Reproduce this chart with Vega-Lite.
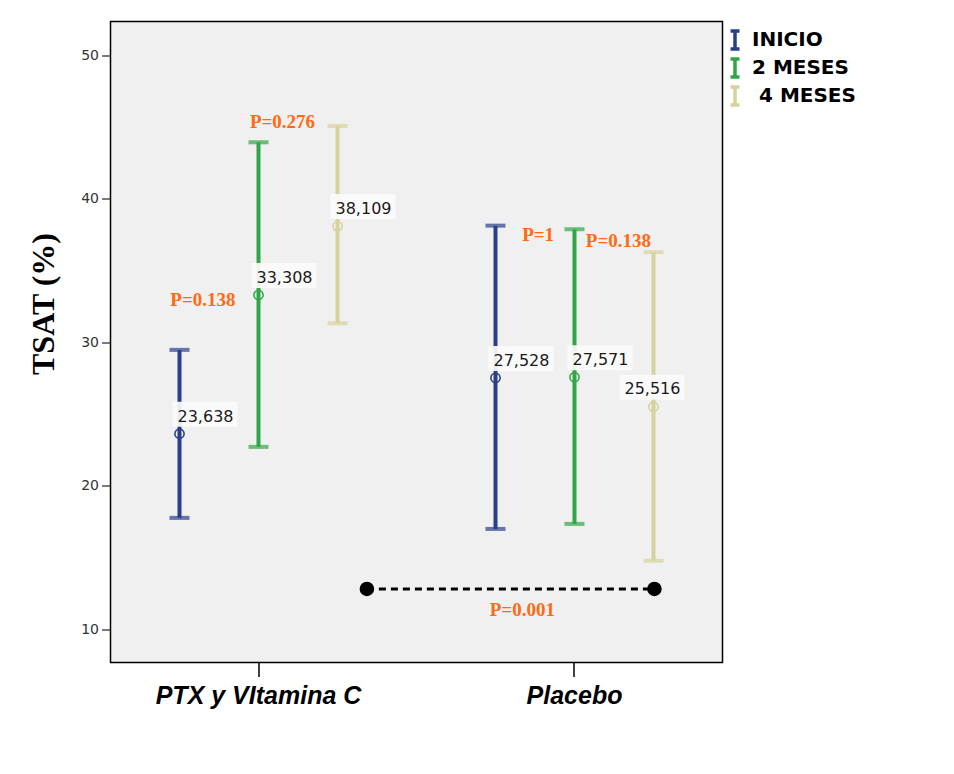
{
  "$schema": "https://vega.github.io/schema/vega-lite/v6.json",
  "width": 612,
  "height": 641,
  "autosize": "none",
  "padding": {"left": 110.5, "top": 21.5, "right": 231.5, "bottom": 111.5},
  "background": "white",
  "config": {
    "view": {"fill": "#f0f0f0", "stroke": "#000000", "strokeWidth": 1.5},
    "axisY": {
      "grid": false,
      "domain": false,
      "tickSize": 9,
      "tickColor": "#222222",
      "tickWidth": 1.2,
      "labelFont": "DejaVu Sans",
      "labelFontSize": 14,
      "labelColor": "#333333",
      "labelPadding": 3
    },
    "locale": {"number": {"decimal": ",", "thousands": ".", "grouping": [3], "currency": ["", " €"]}}
  },
  "datasets": {
    "tsat": [
      {"group": "PTX y VItamina C", "time": "INICIO", "mean": 23.638, "lower": 17.77, "upper": 29.48},
      {"group": "PTX y VItamina C", "time": "2 MESES", "mean": 33.308, "lower": 22.72, "upper": 43.95},
      {"group": "PTX y VItamina C", "time": "4 MESES", "mean": 38.109, "lower": 31.34, "upper": 45.09},
      {"group": "Placebo", "time": "INICIO", "mean": 27.528, "lower": 17.0, "upper": 38.14},
      {"group": "Placebo", "time": "2 MESES", "mean": 27.571, "lower": 17.35, "upper": 37.89},
      {"group": "Placebo", "time": "4 MESES", "mean": 25.516, "lower": 14.78, "upper": 36.29}
    ],
    "pvalues": [
      {"pos": 1.076, "value": 44.95, "label": "P=0.276"},
      {"pos": 0.824, "value": 32.54, "label": "P=0.138"},
      {"pos": 1.885, "value": 37.07, "label": "P=1"},
      {"pos": 2.139, "value": 36.66, "label": "P=0.138"},
      {"pos": 1.835, "value": 10.94, "label": "P=0.001"}
    ],
    "bracket": [
      {"pos": 1.343, "value": 12.82},
      {"pos": 2.253, "value": 12.82}
    ]
  },
  "layer": [
    {
      "data": {"name": "tsat"},
      "encoding": {
        "x": {
          "field": "group",
          "type": "nominal",
          "sort": ["PTX y VItamina C", "Placebo"],
          "scale": {"type": "band", "paddingInner": 0.1, "paddingOuter": 0.0184},
          "axis": {
            "title": null,
            "domain": false,
            "labelAngle": 0,
            "labelLimit": 0,
            "labelFont": "Liberation Sans",
            "labelFontSize": 25,
            "labelFontWeight": "bold",
            "labelFontStyle": "italic",
            "labelColor": "#000000",
            "labelPadding": 7,
            "tickSize": 14,
            "tickColor": "#000000",
            "tickWidth": 1.5
          }
        },
        "xOffset": {
          "field": "time",
          "type": "nominal",
          "sort": ["INICIO", "2 MESES", "4 MESES"],
          "scale": {"paddingInner": 0, "paddingOuter": 0.3}
        }
      },
      "layer": [
        {
          "mark": {"type": "rule", "strokeWidth": 4},
          "encoding": {
            "y": {
              "field": "lower",
              "type": "quantitative",
              "scale": {"domain": [7.69, 52.37], "nice": false, "zero": false},
              "axis": {
                "title": "TSAT (%)",
                "values": [10, 20, 30, 40, 50],
                "labelFontSize": 14,
                "labelColor": "#333333",
                "titleFont": "Liberation Serif",
                "titleFontSize": 32,
                "titleFontWeight": "bold",
                "titleColor": "#000000",
                "titleAngle": -90,
                "titleBaseline": "alphabetic",
                "titleAlign": "center",
                "titleX": -57.5,
                "titleY": 282
              }
            },
            "y2": {"field": "upper"},
            "color": {
              "field": "time",
              "type": "nominal",
              "sort": ["INICIO", "2 MESES", "4 MESES"],
              "scale": {"domain": ["INICIO", "2 MESES", "4 MESES"], "range": ["#2b3e8c", "#2fa746", "#d5d39b"]},
              "legend": {
                "title": null,
                "orient": "none",
                "legendX": 613.5,
                "legendY": 7.5,
                "padding": 0,
                "symbolType": "M-0.5,-1H0.5M0,-1V1M-0.5,1H0.5",
                "symbolSize": 324,
                "symbolStrokeWidth": 3.5,
                "symbolOpacity": 1,
                "symbolFillColor": "transparent",
                "labelFont": "DejaVu Sans",
                "labelFontSize": 20,
                "labelFontWeight": "bold",
                "labelColor": "#000000",
                "labelOffset": 6,
                "rowPadding": -4,
                "encode": {
                  "symbols": {"update": {"opacity": {"value": 1}, "strokeOpacity": {"value": 1}}},
                  "labels": {"update": {"dx": {"signal": "datum.value === '4 MESES' ? 7 : 0"}}}
                }
              }
            }
          }
        },
        {
          "mark": {"type": "tick", "size": 20, "thickness": 4, "orient": "horizontal"},
          "encoding": {
            "y": {"field": "upper", "type": "quantitative"},
            "color": {"field": "time", "type": "nominal"}
          }
        },
        {
          "mark": {"type": "tick", "size": 20, "thickness": 4, "orient": "horizontal"},
          "encoding": {
            "y": {"field": "lower", "type": "quantitative"},
            "color": {"field": "time", "type": "nominal"}
          }
        },
        {
          "mark": {"type": "point", "shape": "circle", "filled": false, "size": 85, "strokeWidth": 1.6, "opacity": 1},
          "encoding": {
            "y": {"field": "mean", "type": "quantitative"},
            "color": {"field": "time", "type": "nominal"}
          }
        },
        {
          "transform": [{"filter": "!(datum.group == 'Placebo' && datum.time == '4 MESES')"}],
          "mark": {"type": "point", "shape": "M-0.215,-0.985H1.785V-0.215H-0.215Z", "size": 4225, "filled": true, "fill": "#fbfbfb", "opacity": 0.92, "strokeWidth": 0},
          "encoding": {"y": {"field": "mean", "type": "quantitative"}}
        },
        {
          "transform": [{"filter": "datum.group == 'Placebo' && datum.time == '4 MESES'"}],
          "mark": {"type": "point", "shape": "M-1.046,-0.985H0.954V-0.215H-1.046Z", "size": 4225, "filled": true, "fill": "#fbfbfb", "opacity": 0.92, "strokeWidth": 0},
          "encoding": {"y": {"field": "mean", "type": "quantitative"}}
        },
        {
          "transform": [{"filter": "!(datum.group == 'Placebo' && datum.time == '4 MESES')"}],
          "mark": {"type": "text", "align": "left", "baseline": "alphabetic", "dx": -2, "dy": -12, "font": "DejaVu Sans", "fontSize": 16, "fill": "#1a1a1a"},
          "encoding": {
            "y": {"field": "mean", "type": "quantitative"},
            "text": {"field": "mean", "type": "quantitative", "format": ".3f"}
          }
        },
        {
          "transform": [{"filter": "datum.group == 'Placebo' && datum.time == '4 MESES'"}],
          "mark": {"type": "text", "align": "left", "baseline": "alphabetic", "dx": -29, "dy": -13, "font": "DejaVu Sans", "fontSize": 16, "fill": "#1a1a1a"},
          "encoding": {
            "y": {"field": "mean", "type": "quantitative"},
            "text": {"field": "mean", "type": "quantitative", "format": ".3f"}
          }
        }
      ]
    },
    {
      "encoding": {
        "x": {"field": "pos", "type": "quantitative", "scale": {"domain": [0.5316, 2.4684], "nice": false, "zero": false}, "axis": null},
        "y": {"field": "value", "type": "quantitative", "scale": {"domain": [7.69, 52.37], "nice": false, "zero": false}}
      },
      "layer": [
        {
          "data": {"name": "bracket"},
          "mark": {"type": "line", "color": "#000000", "strokeWidth": 3, "strokeDash": [7, 5]}
        },
        {
          "data": {"name": "bracket"},
          "mark": {"type": "point", "shape": "circle", "filled": true, "color": "#000000", "size": 210, "opacity": 1}
        },
        {
          "data": {"name": "pvalues"},
          "mark": {"type": "text", "align": "center", "baseline": "alphabetic", "font": "Liberation Serif", "fontSize": 19, "fontWeight": "bold", "fill": "#ff6a13"},
          "encoding": {"text": {"field": "label", "type": "nominal"}}
        }
      ]
    }
  ],
  "resolve": {"scale": {"x": "independent"}, "axis": {"x": "independent"}}
}
